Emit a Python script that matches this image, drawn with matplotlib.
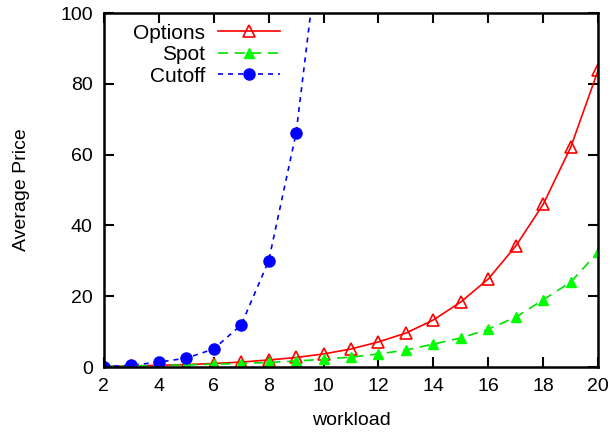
import matplotlib
matplotlib.use('Agg')
import matplotlib.pyplot as plt

plt.rcParams['font.family'] = ['Liberation Sans', 'DejaVu Sans']

workload = [2, 3, 4, 5, 6, 7, 8, 9, 10, 11, 12, 13, 14, 15, 16, 17, 18, 19, 20]
options = [0.2, 0.3, 0.5, 0.7, 1.0, 1.4, 2.0, 2.7, 3.7, 5.1, 7.1, 9.6, 13.3, 18.4, 24.9, 34.2, 46.0, 62.1, 83.9]
spot = [0.2, 0.3, 0.4, 0.6, 0.8, 1.0, 1.3, 1.7, 2.2, 2.8, 3.7, 4.8, 6.5, 8.2, 10.7, 14.1, 19.0, 24.0, 32.5]
cutoff_x = [2, 3, 4, 5, 6, 7, 8, 9, 10]
cutoff = [0.1, 0.5, 1.4, 2.5, 5.1, 11.9, 30.0, 66.1, 130.0]

fig = plt.figure(figsize=(6.11, 4.38), dpi=100)
ax = fig.add_axes([0.170, 0.162, 0.809, 0.808])

ax.plot(workload, options, color='#ff0000', lw=1.2, marker='^', ms=9,
        mfc='none', mec='#ff0000', mew=1.2, label='Options')
ax.plot(workload, spot, color='#00e000', lw=1.2, ls=(0, (6, 4)), marker='^',
        ms=7.5, mfc='#00ff00', mec='#00ff00', label='Spot')
ax.plot(cutoff_x, cutoff, color='#0000ff', lw=1.2, ls=(0, (3, 3)), marker='o',
        ms=8, mfc='#0000ff', mec='#0000ff', label='Cutoff')

ax.set_xlim(2, 20)
ax.set_ylim(0, 100)
ax.set_xticks(range(2, 21, 2))
ax.set_yticks(range(0, 101, 20))
ax.tick_params(direction='in', length=7, width=1.5, top=True, right=True,
               labelsize=14, pad=8)
for s in ax.spines.values():
    s.set_linewidth(1.8)

ax.set_xlabel('workload', fontsize=14, labelpad=12)
ax.set_ylabel('Average Price', fontsize=14, labelpad=22)

ax.legend(loc='upper right', bbox_to_anchor=(0.357, 0.97), frameon=False,
          markerfirst=False, fontsize=15, handlelength=3.0, labelspacing=0.12,
          handletextpad=0.6, borderaxespad=0, borderpad=0)

fig.savefig('out.png', dpi=100)
